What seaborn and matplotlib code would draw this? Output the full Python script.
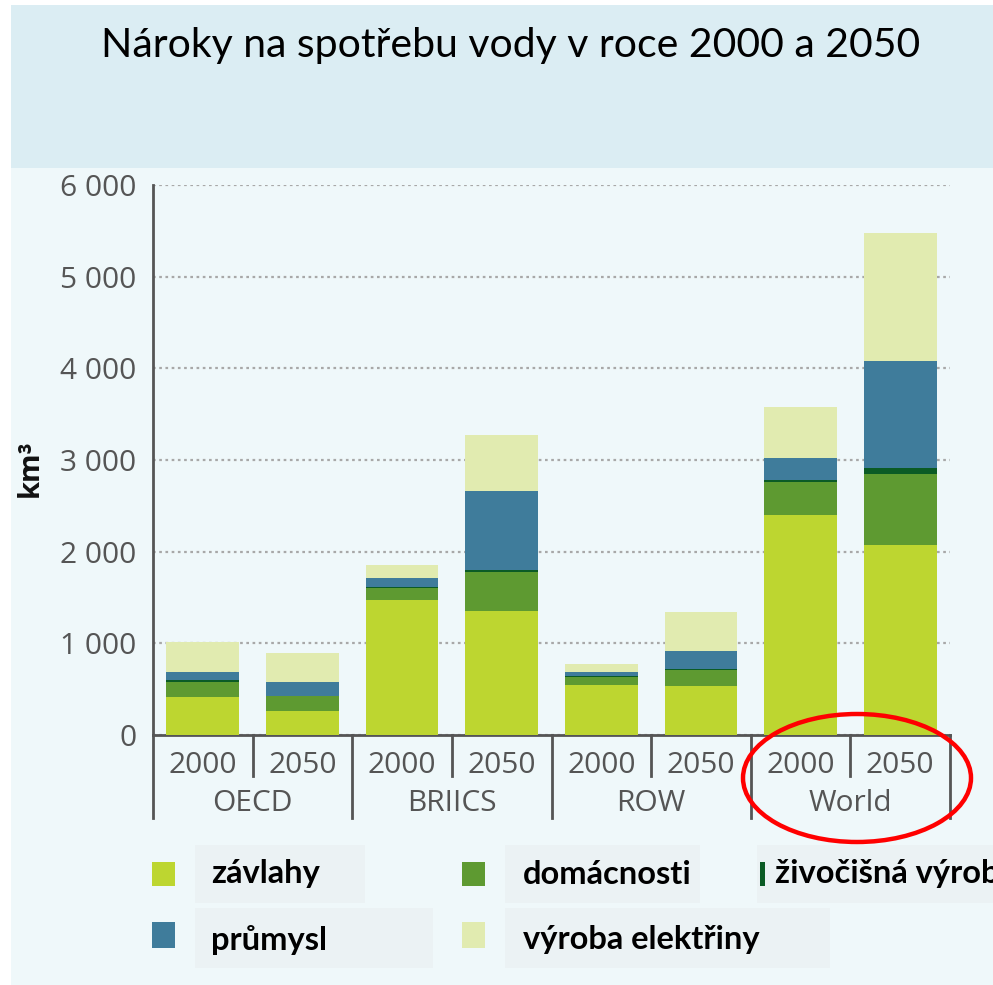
import pandas as pd
import seaborn as sns
import matplotlib.pyplot as plt
from matplotlib.patches import Rectangle, Ellipse
from matplotlib.transforms import blended_transform_factory

# data (km3)
regions = ['OECD', 'OECD', 'BRIICS', 'BRIICS', 'ROW', 'ROW', 'World', 'World']
years = ['2000', '2050', '2000', '2050', '2000', '2050', '2000', '2050']
zavlahy = [420, 260, 1475, 1355, 550, 530, 2400, 2070]
domacnosti = [155, 165, 130, 425, 85, 175, 365, 780]
zivocisna = [20, 5, 10, 15, 5, 20, 15, 65]
prumysl = [90, 145, 100, 865, 45, 195, 245, 1170]
elektrina = [325, 325, 140, 615, 85, 425, 555, 1390]

series_names = ['závlahy', 'domácnosti', 'živočišná výroba', 'průmysl', 'výroba elektřiny']
colors = ['#BDD630', '#5E9A31', '#0B5B25', '#3F7C9B', '#E1EBB0']
yticks = [0, 1000, 2000, 3000, 4000, 5000, 6000]

W, H = 993, 985
fig = plt.figure(figsize=(W / 100, H / 100), dpi=100, facecolor='white')

def fx(px):
    return px / W

def fy(py):
    return 1 - py / H

# background panels
fig.patches.append(Rectangle((fx(11), 0), 1, fy(5), transform=fig.transFigure,
                             facecolor='#EFF8FA', edgecolor='none', zorder=-10))
fig.patches.append(Rectangle((fx(11), fy(168)), 1, fy(5) - fy(168), transform=fig.transFigure,
                             facecolor='#DBEDF3', edgecolor='none', zorder=-9))

fig.text(fx(511), fy(46), 'Nároky na spotřebu vody v roce 2000 a 2050', ha='center', va='center',
         fontsize=29.5, family='Lato', color='black')

ax = fig.add_axes([fx(153), fy(735), fx(950) - fx(153), fy(185) - fy(735)])
ax.set_facecolor('none')

df = pd.DataFrame({'key': [r + ' ' + y for r, y in zip(regions, years)]})
layers = [zavlahy, domacnosti, zivocisna, prumysl, elektrina]
cum = [0] * len(regions)
cums = []
for layer in layers:
    cum = [c + v for c, v in zip(cum, layer)]
    cums.append(cum)

# draw cumulative totals from the top down so the lower layers overlay
for i in range(len(layers) - 1, -1, -1):
    df['v'] = cums[i]
    sns.barplot(data=df, x='key', y='v', color=colors[i], saturation=1, width=0.73,
                ax=ax, zorder=3, edgecolor='none', linewidth=0)

ax.set_xlim(-0.5, 7.5)
ax.set_ylim(0, 6000)
ax.set_yticks(yticks)
ax.set_yticklabels([f'{t:,}'.replace(',', ' ') for t in yticks], family='Open Sans',
                   fontsize=21.5, color='#555555')
ax.tick_params(axis='y', length=0, pad=12)
ax.set_xticks([])
ax.set_xlabel('')
ax.set_ylabel('')
ax.yaxis.grid(True, linestyle=(0, (1.2, 1.6)), color='#A8A8A8', linewidth=1.6)
ax.set_axisbelow(True)
for s in ['top', 'right']:
    ax.spines[s].set_visible(False)
for s in ['left', 'bottom']:
    ax.spines[s].set_color('#555555')
    ax.spines[s].set_linewidth(2)

# two-level category axis
tr = blended_transform_factory(ax.transData, ax.transAxes)
for xb in [-0.5, 1.5, 3.5, 5.5, 7.5]:
    ax.plot([xb, xb], [0, -0.151], transform=tr, clip_on=False, color='#555555', lw=2)
for xb in [0.5, 2.5, 4.5, 6.5]:
    ax.plot([xb, xb], [0, -0.075], transform=tr, clip_on=False, color='#555555', lw=2)
for i, y in enumerate(years):
    ax.text(i, -0.055, y, transform=tr, ha='center', va='center', family='Open Sans',
            fontsize=21.5, color='#555555')
for i in range(0, len(regions), 2):
    ax.text(i + 0.5, -0.124, regions[i], transform=tr, ha='center', va='center',
            family='Open Sans', fontsize=21.5, color='#555555')

fig.text(fx(30), fy(468), 'km³', rotation=90, ha='center', va='center', fontsize=21,
         fontweight='bold', family='Open Sans', color='#111111')

# highlight around World
fig.patches.append(Ellipse((fx(857), fy(778)), fx(228), 128 / H, transform=fig.transFigure,
                           facecolor='none', edgecolor='#FF0000', linewidth=3.2, zorder=10))

# legend
label_boxes = [(195, 845, 365, 903), (505, 845, 700, 903), (757, 845, 993, 903),
               (195, 908, 433, 968), (505, 908, 830, 968)]
patch_pos = [(152, 862, 23, 24), (462, 862, 23, 24), (760, 862, 5, 24),
             (152, 922, 23, 26), (462, 922, 23, 26)]
text_pos = [(211, 874), (523, 874), (775, 874), (211, 940), (523, 940)]
for k in range(len(series_names)):
    x0, y0, x1, y1 = label_boxes[k]
    fig.patches.append(Rectangle((fx(x0), fy(y1)), fx(x1) - fx(x0), fy(y0) - fy(y1),
                                 transform=fig.transFigure, facecolor='#EBF2F4',
                                 edgecolor='none', zorder=-5))
    px, py, pw, ph = patch_pos[k]
    fig.patches.append(Rectangle((fx(px), fy(py + ph)), fx(pw), ph / H,
                                 transform=fig.transFigure, facecolor=colors[k],
                                 edgecolor='none', zorder=2))
    tx, ty = text_pos[k]
    fig.text(fx(tx), fy(ty), series_names[k], ha='left', va='center', fontsize=23.5,
             fontweight='bold', family='Lato', color='black')

fig.savefig('out.png', dpi=100, facecolor='white')
